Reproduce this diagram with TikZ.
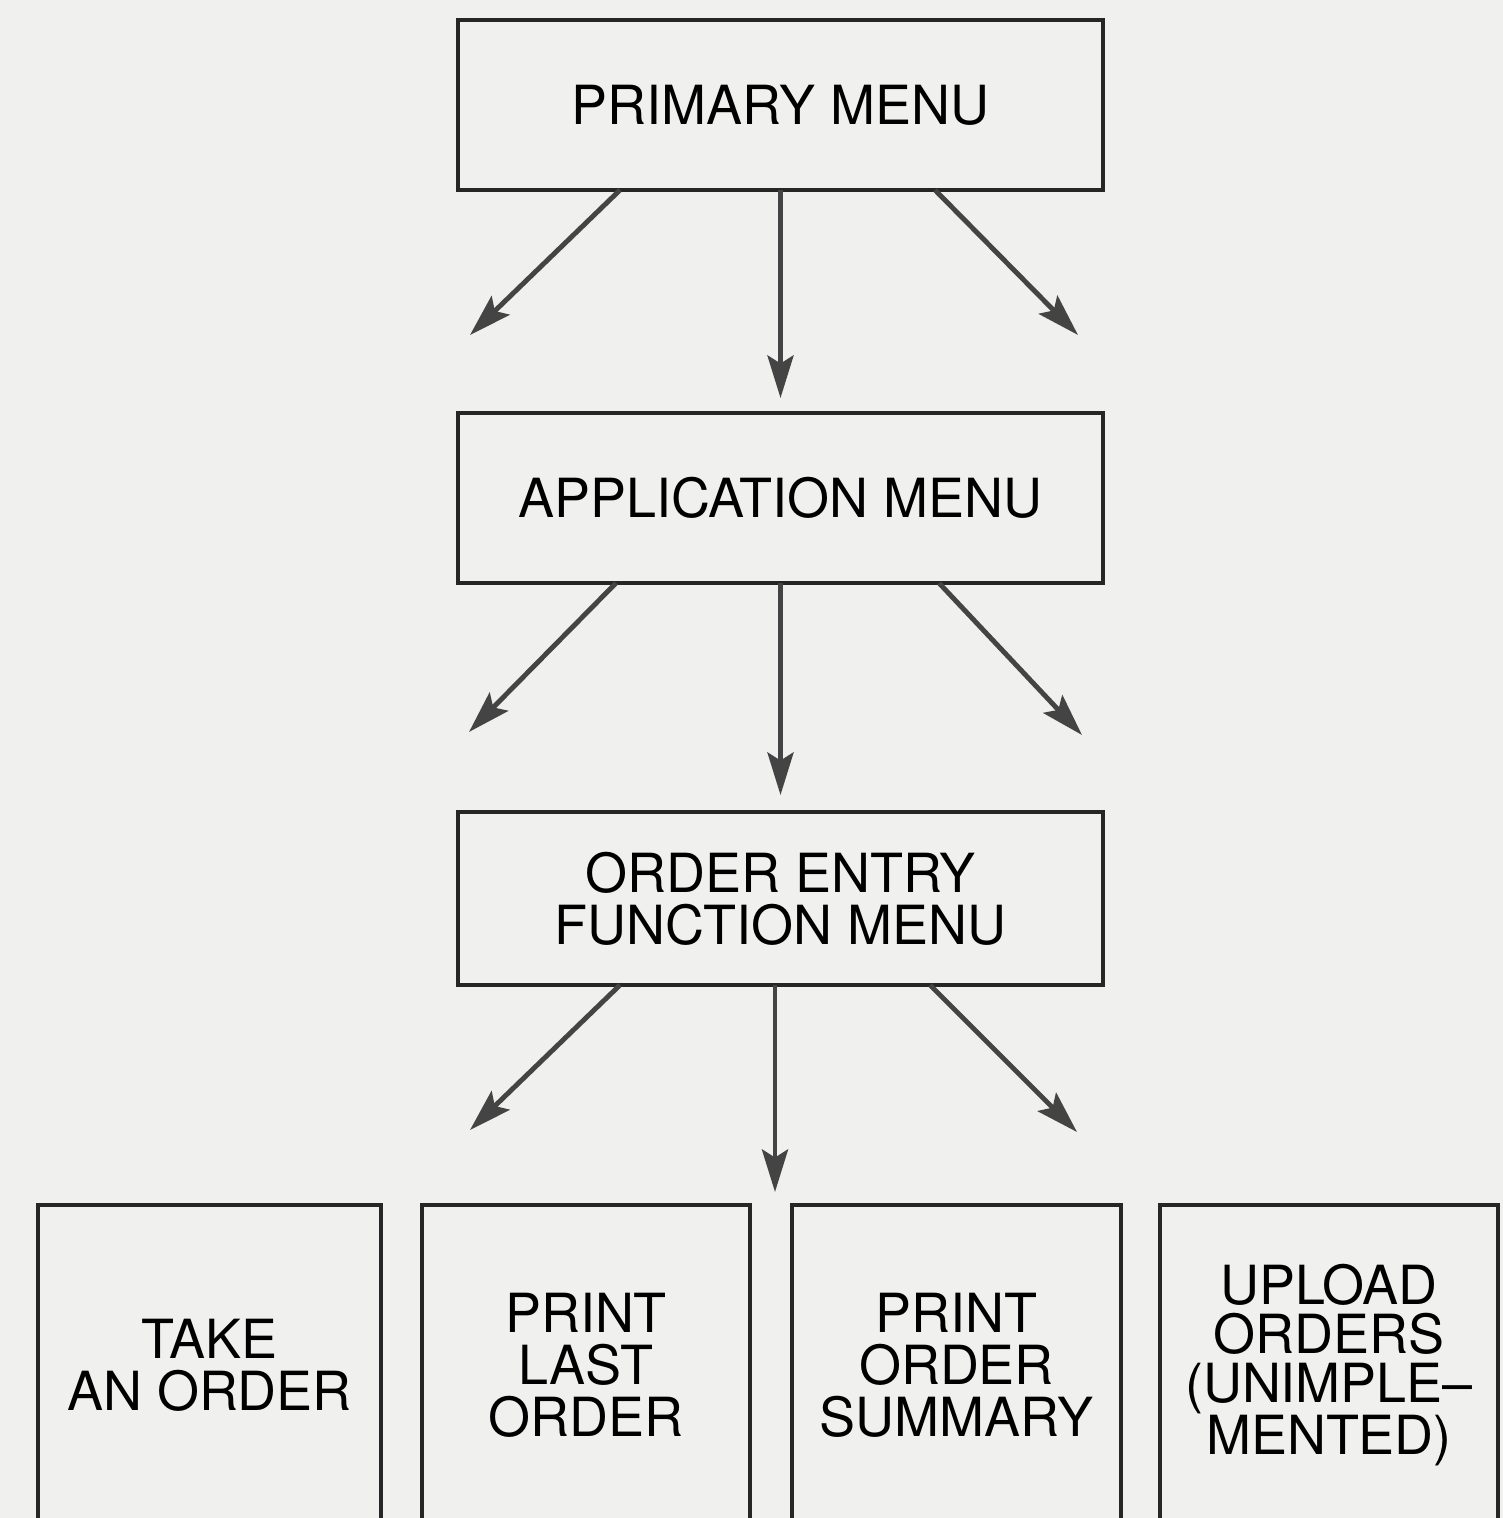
\documentclass[tikz,border=0pt]{standalone}
\usepackage{fontspec}
\setmainfont{TeX Gyre Heros}
\usetikzlibrary{positioning,calc,arrows.meta}
\definecolor{paper}{RGB}{240,240,238}
\definecolor{ink}{RGB}{38,38,38}
\definecolor{arrowgray}{RGB}{68,68,68}

\begin{document}
\begin{tikzpicture}[node distance=0.8cm,
        menubox/.style={draw=ink, line width=2pt, rectangle, minimum width=12.9cm, minimum height=3.4cm, align=center, inner sep=0pt, outer sep=0pt, font=\fontsize{30.7}{29.6}\selectfont},
        leafbox/.style={draw=ink, line width=2pt, rectangle, minimum height=6.4cm, align=center, inner sep=0pt, outer sep=0pt, font=\fontsize{30.7}{29.6}\selectfont},
        link/.style={draw=arrowgray, line width=2.8pt, -{Stealth[length=0.85cm, width=0.52cm, inset=0.16cm]}}
    ]
        \fill[paper] (0,0) rectangle (30.06,-30.36);
        \useasboundingbox (0,0) rectangle (30.06,-30.36);
        \clip (0,0) rectangle (30.06,-30.36);

        % Menus
        \node [menubox] (primary) at (15.61,-2.10) {PRIMARY MENU};
        \node [menubox, below=4.46cm of primary] (application) {APPLICATION MENU};
        \node [menubox, below=4.58cm of application, minimum height=3.46cm] (orderentry) {ORDER ENTRY\\FUNCTION MENU};

        % Functions
        \node [leafbox, minimum width=6.86cm] (take) at (4.19,-27.3) {TAKE\\AN ORDER};
        \node [leafbox, minimum width=6.56cm, right=0.82cm of take] (printlast) {PRINT\\LAST\\ORDER};
        \node [leafbox, minimum width=6.58cm, right=0.84cm of printlast] (summary) {PRINT\\ORDER\\SUMMARY};
        \node [leafbox, minimum width=6.76cm, right=0.78cm of summary, font=\fontsize{30.7}{27.8}\selectfont] (upload) {UPLOAD\\ORDERS\\(UNIMPLE--\\MENTED)};

        % Primary menu choices
        \coordinate [below left=2.9cm and 6.21cm of primary.south] (primaryL);
        \coordinate [below right=2.9cm and 5.95cm of primary.south] (primaryR);
        \draw [link] ([xshift=-3.21cm]primary.south) -- (primaryL);
        \draw [link, shorten >=0.3cm] (primary.south) -- (application.north);
        \draw [link] ([xshift=3.09cm]primary.south) -- (primaryR);

        % Application menu choices
        \coordinate [below left=2.98cm and 6.23cm of application.south] (applicationL);
        \coordinate [below right=3.04cm and 6.03cm of application.south] (applicationR);
        \draw [link] ([xshift=-3.29cm]application.south) -- (applicationL);
        \draw [link, shorten >=0.34cm] (application.south) -- (orderentry.north);
        \draw [link] ([xshift=3.17cm]application.south) -- (applicationR);

        % Order entry choices
        \coordinate [below left=2.9cm and 6.21cm of orderentry.south] (orderL);
        \coordinate [below left=4.14cm and 0.11cm of orderentry.south] (orderC);
        \coordinate [below right=2.94cm and 5.93cm of orderentry.south] (orderR);
        \draw [link] ([xshift=-3.21cm]orderentry.south) -- (orderL);
        \draw [link] ([xshift=-0.11cm]orderentry.south) -- (orderC);
        \draw [link] ([xshift=2.99cm]orderentry.south) -- (orderR);
    \end{tikzpicture}
\end{document}
